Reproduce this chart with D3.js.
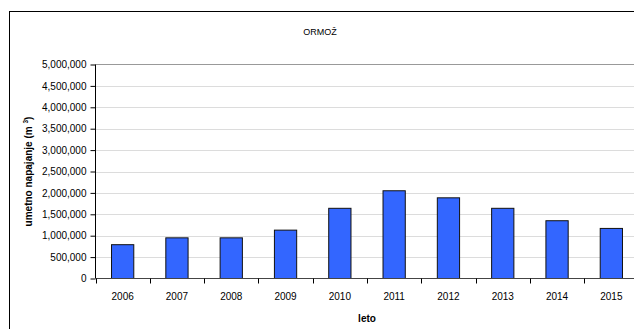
<!DOCTYPE html>
<html>
<head>
<meta charset="utf-8">
<script src="https://cdn.jsdelivr.net/npm/d3@7"></script>
<style>
  html, body { margin: 0; padding: 0; background: #fff; }
  svg { display: block; font-family: "Liberation Sans", Arial, sans-serif; }
</style>
</head>
<body>
<svg id="chart" width="634" height="329"></svg>
<script>
// Artificial recharge per year (m³)
const years = ["2006", "2007", "2008", "2009", "2010", "2011", "2012", "2013", "2014", "2015"];
const recharge = [790000, 950000, 950000, 1130000, 1640000, 2050000, 1885000, 1640000, 1350000, 1170000];
const yTicks = [0, 500000, 1000000, 1500000, 2000000, 2500000, 3000000, 3500000, 4000000, 4500000, 5000000];

const title = "ORMOŽ";
const xTitle = "leto";

const svg = d3.select("#chart");
const plot = { left: 95.5, right: 638.5, top: 64.5, bottom: 278.5 };

// Outer chart frame (runs past the right and bottom edges)
svg.append("rect")
  .attr("x", 9.5).attr("y", 11.5)
  .attr("width", 700).attr("height", 400)
  .attr("fill", "none").attr("stroke", "#000").attr("stroke-width", 1);

const x = d3.scaleBand().domain(years).range([plot.left, plot.right]).paddingInner(0.59).paddingOuter(0.295);
const xEdge = d3.scaleLinear().domain([0, years.length]).range([plot.left, plot.right]);
const y = d3.scaleLinear().domain([0, 5000000]).range([plot.bottom, plot.top]);

// Horizontal gridlines
svg.append("g").selectAll("line").data(yTicks.slice(1, -1)).join("line")
  .attr("x1", plot.left).attr("x2", plot.right)
  .attr("y1", d => Math.round(y(d)) + 0.5).attr("y2", d => Math.round(y(d)) + 0.5)
  .attr("stroke", "#dcdcdc").attr("stroke-width", 1);

// Top border of plot area
svg.append("line")
  .attr("x1", plot.left).attr("x2", plot.right)
  .attr("y1", plot.top).attr("y2", plot.top)
  .attr("stroke", "#999").attr("stroke-width", 1.2);

// Bars
svg.append("g").selectAll("rect").data(years).join("rect")
  .attr("x", (d) => x(d))
  .attr("y", (d, i) => y(recharge[i]))
  .attr("width", x.bandwidth())
  .attr("height", (d, i) => y(0) - y(recharge[i]))
  .attr("fill", "#3366ff")
  .attr("stroke", "#111").attr("stroke-width", 1);

// Y axis
const yAxis = d3.axisLeft(y).tickValues(yTicks).tickSize(5).tickPadding(4)
  .tickFormat(d3.format(",.0f"));
const yg = svg.append("g").attr("transform", `translate(${plot.left},0)`).call(yAxis);
yg.select(".domain").attr("stroke", "#000").attr("d", `M0,${plot.top}V${plot.bottom}`);
yg.selectAll(".tick line").attr("stroke", "#000");
yg.selectAll("text").attr("font-size", 10).attr("fill", "#000").attr("font-family", "Liberation Sans, Arial, sans-serif");

// X axis: category labels centered, tick marks at category boundaries
const xg = svg.append("g").attr("transform", `translate(0,${plot.bottom})`);
xg.append("line").attr("x1", plot.left).attr("x2", plot.right)
  .attr("stroke", "#444").attr("stroke-width", 1.2);
xg.selectAll("line.edge").data(d3.range(years.length + 1)).join("line")
  .attr("class", "edge")
  .attr("x1", i => Math.round(xEdge(i)) + 0.5).attr("x2", i => Math.round(xEdge(i)) + 0.5)
  .attr("y1", 0).attr("y2", 5)
  .attr("stroke", "#000");
xg.selectAll("text").data(years).join("text")
  .attr("x", d => x(d) + x.bandwidth() / 2)
  .attr("y", 21)
  .attr("text-anchor", "middle")
  .attr("font-size", 10)
  .text(d => d);

// Titles
svg.append("text").attr("x", 320).attr("y", 35).attr("text-anchor", "middle")
  .attr("font-size", 9).text(title);

svg.append("text").attr("x", (plot.left + plot.right) / 2).attr("y", 322)
  .attr("text-anchor", "middle").attr("font-size", 10).attr("font-weight", "bold")
  .text(xTitle);

const yl = svg.append("text")
  .attr("transform", `translate(32,${(plot.top + plot.bottom) / 2}) rotate(-90)`)
  .attr("text-anchor", "middle").attr("font-size", 10).attr("font-weight", "bold");
yl.append("tspan").text("umetno napajanje (m ");
yl.append("tspan").attr("font-size", 6.5).attr("dy", -4).text("3");
yl.append("tspan").attr("dy", 4).text(")");
</script>
</body>
</html>
